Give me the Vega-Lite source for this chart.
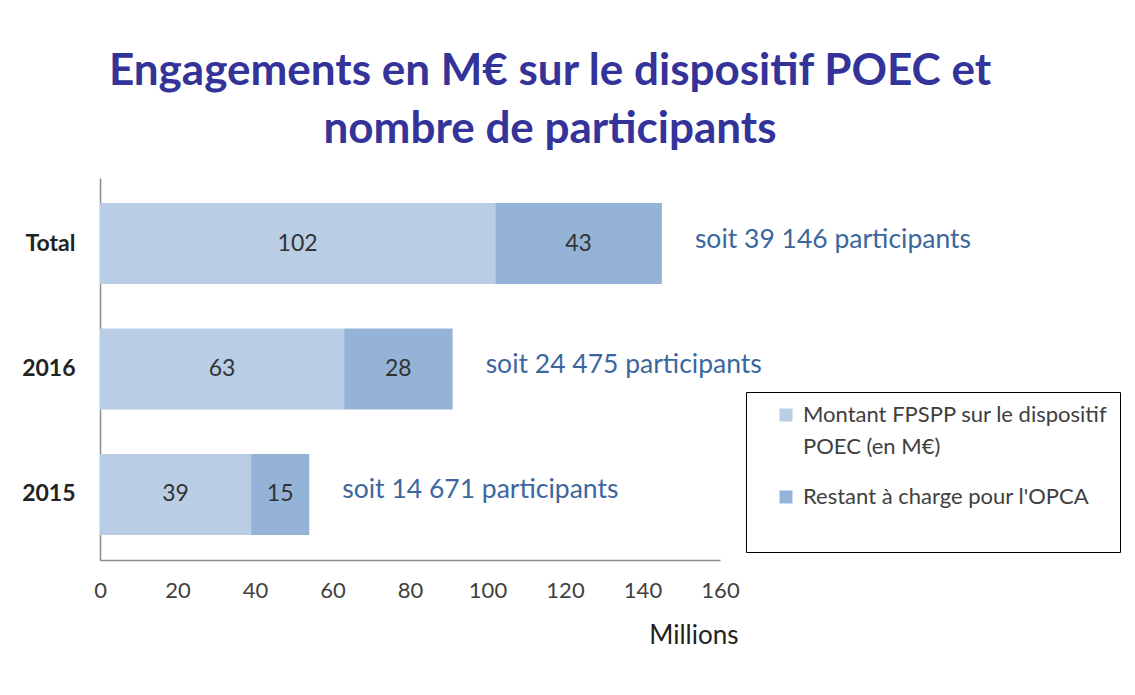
{
  "$schema": "https://vega.github.io/schema/vega-lite/v6.json",
  "width": 620,
  "height": 382,
  "autosize": {"type": "none"},
  "padding": {"left": 100, "top": 178, "right": 415, "bottom": 135},
  "background": "white",
  "config": {
    "font": "Lato",
    "view": {"stroke": null}
  },
  "title": {
    "text": ["Engagements en M€ sur le dispositif POEC et", "nombre de participants"],
    "font": "Lato",
    "fontSize": 44,
    "fontWeight": "bold",
    "color": "#333399",
    "lineHeight": 58,
    "anchor": "middle",
    "frame": "group",
    "dx": 140,
    "offset": 26
  },
  "datasets": {
    "bars": [
      {"cat": "Total", "series": "Montant FPSPP sur le dispositif POEC (en M€)", "value": 102, "ord": 1},
      {"cat": "Total", "series": "Restant à charge pour l'OPCA", "value": 43, "ord": 2},
      {"cat": "2016", "series": "Montant FPSPP sur le dispositif POEC (en M€)", "value": 63, "ord": 1},
      {"cat": "2016", "series": "Restant à charge pour l'OPCA", "value": 28, "ord": 2},
      {"cat": "2015", "series": "Montant FPSPP sur le dispositif POEC (en M€)", "value": 39, "ord": 1},
      {"cat": "2015", "series": "Restant à charge pour l'OPCA", "value": 15, "ord": 2}
    ],
    "notes": [
      {"cat": "Total", "total": 145, "label": "soit 39 146 participants"},
      {"cat": "2016", "total": 91, "label": "soit 24 475 participants"},
      {"cat": "2015", "total": 54, "label": "soit 14 671 participants"}
    ]
  },
  "layer": [
    {
      "data": {"name": "bars"},
      "mark": {"type": "bar"},
      "encoding": {
        "y": {
          "field": "cat", "type": "nominal", "sort": ["Total", "2016", "2015"],
          "scale": {"paddingInner": 0.355, "paddingOuter": 0.2},
          "axis": {
            "title": null, "ticks": false, "domainColor": "#8c8c8c", "domainWidth": 1.5,
            "labelFont": "Lato", "labelFontSize": 23, "labelFontWeight": "bold", "labelColor": "#222222",
            "labelPadding": 25
          }
        },
        "x": {
          "field": "value", "type": "quantitative", "stack": "zero",
          "scale": {"domain": [0, 160], "nice": false},
          "axis": {
            "title": "Millions", "values": [0, 20, 40, 60, 80, 100, 120, 140, 160],
            "grid": false, "ticks": false, "domainColor": "#8c8c8c", "domainWidth": 1.5,
            "labelFont": "Lato", "labelFontSize": 22, "labelColor": "#404040", "labelPadding": 20,
            "labelFlush": false,
            "titleFont": "Lato", "titleFontSize": 26, "titleFontWeight": "normal", "titleColor": "#222222",
            "titleAnchor": "end", "titleAlign": "right", "titleX": 638, "titleY": 62, "titleBaseline": "top"
          }
        },
        "color": {
          "field": "series", "type": "nominal",
          "scale": {
            "domain": ["Montant FPSPP sur le dispositif POEC (en M€)", "Restant à charge pour l'OPCA"],
            "range": ["#b9cde5", "#95b3d7"]
          },
          "legend": {
            "title": null, "orient": "none", "legendX": 646, "legendY": 214,
            "strokeColor": "#000000", "fillColor": "white", "padding": 12,
            "symbolType": "square", "symbolSize": 169, "symbolStrokeWidth": 0, "symbolOffset": 17,
            "labelFont": "Lato", "labelFontSize": 22, "labelColor": "#404040", "labelLimit": 450,
            "labelExpr": "datum.label == 'Montant FPSPP sur le dispositif POEC (en M€)' ? ['Montant FPSPP sur le dispositif        ', 'POEC (en M€)'] : [datum.label, '']",
            "rowPadding": 28, "labelOffset": 6,
            "encode": {"labels": {"update": {"lineHeight": {"value": 32}}}}
          }
        },
        "order": {"field": "ord", "type": "quantitative"}
      }
    },
    {
      "data": {"name": "bars"},
      "transform": [
        {"stack": "value", "groupby": ["cat"], "sort": [{"field": "ord"}], "as": ["x0", "x1"]},
        {"calculate": "(datum.x0 + datum.x1) / 2", "as": "mid"}
      ],
      "mark": {"type": "text", "font": "Lato", "fontSize": 23, "color": "#333333", "align": "center", "baseline": "middle"},
      "encoding": {
        "y": {"field": "cat", "type": "nominal", "sort": ["Total", "2016", "2015"]},
        "x": {"field": "mid", "type": "quantitative"},
        "text": {"field": "value", "type": "quantitative"}
      }
    },
    {
      "data": {"name": "notes"},
      "mark": {"type": "text", "font": "Lato", "fontSize": 26.5, "color": "#3b679e", "align": "left", "baseline": "middle", "dx": 33, "dy": -4},
      "encoding": {
        "y": {"field": "cat", "type": "nominal", "sort": ["Total", "2016", "2015"]},
        "x": {"field": "total", "type": "quantitative"},
        "text": {"field": "label", "type": "nominal"}
      }
    }
  ]
}
